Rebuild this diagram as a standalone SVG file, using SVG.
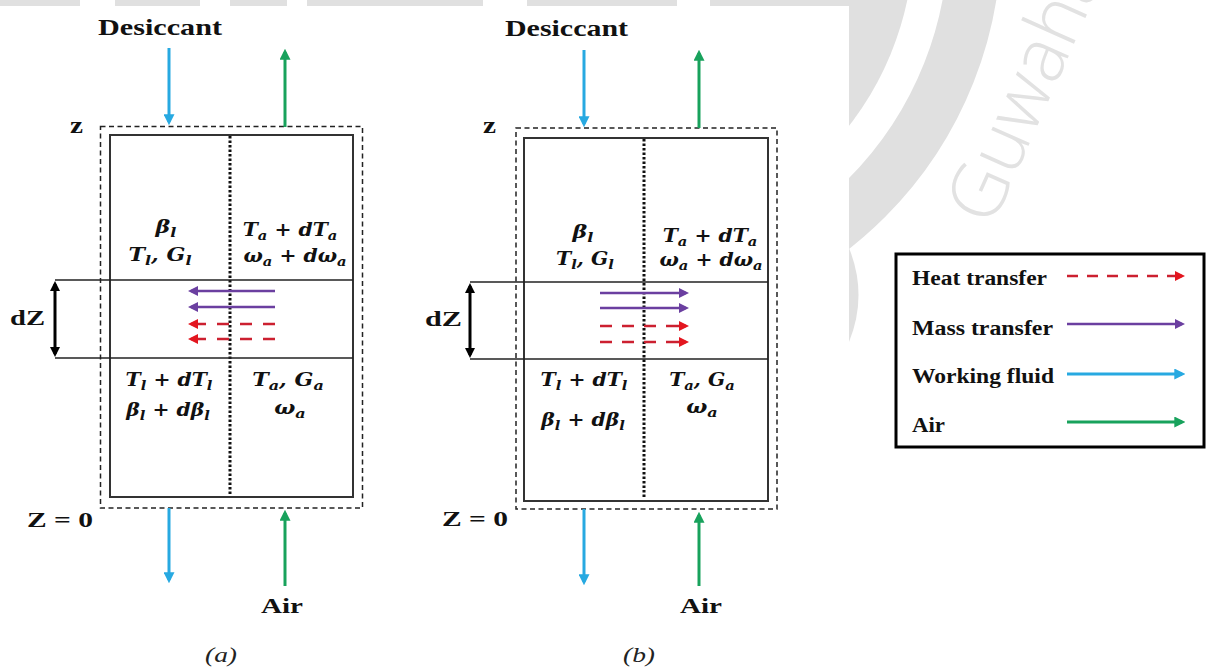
<svg xmlns="http://www.w3.org/2000/svg" width="1207" height="670" viewBox="0 0 1207 670">
<style>
.lb{font-family:"Liberation Serif",serif;font-weight:bold;fill:#111}
.cap{font-family:"Liberation Serif",serif;font-style:italic;fill:#222;font-size:22px}
.m{font-family:"DejaVu Serif",serif;font-style:italic;font-weight:bold;font-size:18px;fill:#111}
.s{font-size:13px}
.dash{fill:none;stroke:#222;stroke-width:1.5;stroke-dasharray:5 3.5}
.box{fill:none;stroke:#333;stroke-width:2}
.dot{stroke:#111;stroke-width:3;stroke-dasharray:2.5 2}
.hl{stroke:#222;stroke-width:1.5}
.blue{stroke:#27a9e1;stroke-width:3;fill:none}
.green{stroke:#18a25c;stroke-width:3;fill:none}
.purple{stroke:#6b3fa0;stroke-width:2.5;fill:none}
.red{stroke:#cc2030;stroke-width:2.5;fill:none}
.blk{stroke:#000;stroke-width:3;fill:none}
.wm{fill:#e0e0e0}
</style>
<defs>
<marker id="hBlue" viewBox="0 0 10 10" refX="7" refY="5" markerWidth="11" markerHeight="11" markerUnits="userSpaceOnUse" orient="auto"><path d="M0,0L10,5L0,10z" fill="#27a9e1"/></marker>
<marker id="hGreen" viewBox="0 0 10 10" refX="7" refY="5" markerWidth="11" markerHeight="11" markerUnits="userSpaceOnUse" orient="auto"><path d="M0,0L10,5L0,10z" fill="#18a25c"/></marker>
<marker id="hPurple" viewBox="0 0 10 10" refX="7" refY="5" markerWidth="10" markerHeight="10" markerUnits="userSpaceOnUse" orient="auto"><path d="M0,0L10,5L0,10z" fill="#6b3fa0"/></marker>
<marker id="hRed" viewBox="0 0 10 10" refX="7" refY="5" markerWidth="10" markerHeight="10" markerUnits="userSpaceOnUse" orient="auto"><path d="M0,0L10,5L0,10z" fill="#e3161f"/></marker>
<marker id="hBlk" viewBox="0 0 10 10" refX="7" refY="5" markerWidth="10" markerHeight="11" markerUnits="userSpaceOnUse" orient="auto-start-reverse"><path d="M0,0L10,5L0,10z" fill="#000"/></marker>
</defs>
<rect width="1207" height="670" fill="#fff"/>
<g id="watermark">
<circle cx="604" cy="-64" r="310" class="wm"/>
<circle cx="604" cy="-64" r="371" fill="none" stroke="#e0e0e0" stroke-width="53"/>
<path d="M849,248Q868,295 849,342Z" class="wm"/>
<rect x="0" y="0" width="850" height="6" class="wm"/>
<text transform="translate(992,228) rotate(-66)" font-family="'Open Sans',sans-serif" font-weight="300" font-size="76" fill="#e2e2e2">Guwahati</text>
<rect x="0" y="6" width="849" height="664" fill="#fff"/>
<rect x="80" y="0" width="35" height="6" fill="#fff"/>
<rect x="200" y="0" width="30" height="6" fill="#fff"/>
<rect x="287" y="0" width="20" height="6" fill="#fff"/>
<rect x="483" y="0" width="44" height="6" fill="#fff"/>
<rect x="677" y="0" width="33" height="6" fill="#fff"/>
</g>
<g id="panel-a">
<rect class="dash" x="100.5" y="126.5" width="262" height="381.5"/>
<rect class="box" x="110" y="135" width="243" height="362"/>
<line class="dot" x1="230" y1="136" x2="230" y2="495"/>
<line class="hl" x1="55" y1="280" x2="353" y2="280"/>
<line class="hl" x1="55" y1="358" x2="353" y2="358"/>
<text class="lb" x="98" y="35" font-size="24" textLength="124" lengthAdjust="spacingAndGlyphs">Desiccant</text>
<text class="lb" x="70" y="133" font-size="24" textLength="13" lengthAdjust="spacingAndGlyphs">z</text>
<text class="lb" x="10" y="325" font-size="22" textLength="35" lengthAdjust="spacingAndGlyphs">dZ</text>
<text class="lb" x="27" y="527" font-size="22" textLength="66" lengthAdjust="spacingAndGlyphs">Z = 0</text>
<text class="lb" x="261" y="613" font-size="22" textLength="42" lengthAdjust="spacingAndGlyphs">Air</text>
<text class="cap" x="205" y="662" textLength="32" lengthAdjust="spacingAndGlyphs">(a)</text>
<text class="m" text-anchor="middle" transform="translate(166,233) scale(1.23,1)">β<tspan class="s" dy="4">l</tspan></text>
<text class="m" text-anchor="middle" transform="translate(160,261) scale(1.23,1)">T<tspan class="s" dy="4">l</tspan><tspan dy="-4">, G</tspan><tspan class="s" dy="4">l</tspan></text>
<text class="m" text-anchor="middle" transform="translate(290,236) scale(1.13,1)">T<tspan class="s" dy="4">a</tspan><tspan dy="-4"> + dT</tspan><tspan class="s" dy="4">a</tspan></text>
<text class="m" text-anchor="middle" transform="translate(295,262) scale(1.13,1)">ω<tspan class="s" dy="4">a</tspan><tspan dy="-4"> + dω</tspan><tspan class="s" dy="4">a</tspan></text>
<text class="m" text-anchor="middle" transform="translate(169,386) scale(1.13,1)">T<tspan class="s" dy="4">l</tspan><tspan dy="-4"> + dT</tspan><tspan class="s" dy="4">l</tspan></text>
<text class="m" text-anchor="middle" transform="translate(168,416) scale(1.13,1)">β<tspan class="s" dy="4">l</tspan><tspan dy="-4"> + dβ</tspan><tspan class="s" dy="4">l</tspan></text>
<text class="m" text-anchor="middle" transform="translate(288,386) scale(1.23,1)">T<tspan class="s" dy="4">a</tspan><tspan dy="-4">, G</tspan><tspan class="s" dy="4">a</tspan></text>
<text class="m" text-anchor="middle" transform="translate(290,414) scale(1.23,1)">ω<tspan class="s" dy="4">a</tspan></text>
</g>
<g id="panel-b">
<rect class="dash" x="516" y="128" width="261" height="381"/>
<rect class="box" x="524" y="138" width="244" height="363"/>
<line class="dot" x1="644" y1="139" x2="644" y2="499"/>
<line class="hl" x1="470" y1="282" x2="768" y2="282"/>
<line class="hl" x1="470" y1="359" x2="768" y2="359"/>
<text class="lb" x="505" y="36" font-size="24" textLength="123" lengthAdjust="spacingAndGlyphs">Desiccant</text>
<text class="lb" x="483" y="133" font-size="24" textLength="13" lengthAdjust="spacingAndGlyphs">z</text>
<text class="lb" x="425" y="326" font-size="22" textLength="37" lengthAdjust="spacingAndGlyphs">dZ</text>
<text class="lb" x="442" y="526" font-size="22" textLength="66" lengthAdjust="spacingAndGlyphs">Z = 0</text>
<text class="lb" x="680" y="613" font-size="22" textLength="42" lengthAdjust="spacingAndGlyphs">Air</text>
<text class="cap" x="623" y="662" textLength="32" lengthAdjust="spacingAndGlyphs">(b)</text>
<text class="m" text-anchor="middle" transform="translate(583,238) scale(1.23,1)">β<tspan class="s" dy="4">l</tspan></text>
<text class="m" text-anchor="middle" transform="translate(585,265) scale(1.13,1)">T<tspan class="s" dy="4">l</tspan><tspan dy="-4">, G</tspan><tspan class="s" dy="4">l</tspan></text>
<text class="m" text-anchor="middle" transform="translate(710,242) scale(1.13,1)">T<tspan class="s" dy="4">a</tspan><tspan dy="-4"> + dT</tspan><tspan class="s" dy="4">a</tspan></text>
<text class="m" text-anchor="middle" transform="translate(711,266) scale(1.13,1)">ω<tspan class="s" dy="4">a</tspan><tspan dy="-4"> + dω</tspan><tspan class="s" dy="4">a</tspan></text>
<text class="m" text-anchor="middle" transform="translate(584,386) scale(1.13,1)">T<tspan class="s" dy="4">l</tspan><tspan dy="-4"> + dT</tspan><tspan class="s" dy="4">l</tspan></text>
<text class="m" text-anchor="middle" transform="translate(583,426) scale(1.13,1)">β<tspan class="s" dy="4">l</tspan><tspan dy="-4"> + dβ</tspan><tspan class="s" dy="4">l</tspan></text>
<text class="m" text-anchor="middle" transform="translate(702,386) scale(1.13,1)">T<tspan class="s" dy="4">a</tspan><tspan dy="-4">, G</tspan><tspan class="s" dy="4">a</tspan></text>
<text class="m" text-anchor="middle" transform="translate(702,413) scale(1.23,1)">ω<tspan class="s" dy="4">a</tspan></text>
</g>
<g id="legend">
<rect x="896" y="254" width="308" height="193" fill="#fff" stroke="#000" stroke-width="3"/>
<text class="lb" x="912" y="285" font-size="20" textLength="135" lengthAdjust="spacingAndGlyphs">Heat transfer</text>
<text class="lb" x="912" y="335" font-size="20" textLength="141" lengthAdjust="spacingAndGlyphs">Mass transfer</text>
<text class="lb" x="912" y="383" font-size="20" textLength="142" lengthAdjust="spacingAndGlyphs">Working fluid</text>
<text class="lb" x="912" y="432" font-size="20" textLength="33" lengthAdjust="spacingAndGlyphs">Air</text>
</g>
<g id="connectors">
<line class="blue" x1="169" y1="48" x2="169" y2="122" marker-end="url(#hBlue)"/>
<line class="green" x1="285" y1="127" x2="285" y2="52" marker-end="url(#hGreen)"/>
<line class="blue" x1="169" y1="508" x2="169" y2="580" marker-end="url(#hBlue)"/>
<line class="green" x1="285" y1="586" x2="285" y2="513" marker-end="url(#hGreen)"/>
<line class="blk" x1="55" y1="284" x2="55" y2="354" marker-start="url(#hBlk)" marker-end="url(#hBlk)"/>
<line class="purple" x1="275" y1="291" x2="191" y2="291" marker-end="url(#hPurple)"/>
<line class="purple" x1="275" y1="307" x2="191" y2="307" marker-end="url(#hPurple)"/>
<path class="red" d="M275,324H263M252,324H240M229,324H217M206,324H191" marker-end="url(#hRed)"/>
<path class="red" d="M275,339H263M252,339H240M229,339H217M206,339H191" marker-end="url(#hRed)"/>
<line class="blue" x1="584" y1="50" x2="584" y2="124" marker-end="url(#hBlue)"/>
<line class="green" x1="699" y1="128" x2="699" y2="53" marker-end="url(#hGreen)"/>
<line class="blue" x1="584" y1="509" x2="584" y2="582" marker-end="url(#hBlue)"/>
<line class="green" x1="699" y1="586" x2="699" y2="515" marker-end="url(#hGreen)"/>
<line class="blk" x1="470" y1="286" x2="470" y2="355" marker-start="url(#hBlk)" marker-end="url(#hBlk)"/>
<line class="purple" x1="600" y1="293" x2="686" y2="293" marker-end="url(#hPurple)"/>
<line class="purple" x1="600" y1="308" x2="686" y2="308" marker-end="url(#hPurple)"/>
<path class="red" d="M600,326H612M622,326H634M644,326H656M666,326H686" marker-end="url(#hRed)"/>
<path class="red" d="M600,342H612M622,342H634M644,342H656M666,342H686" marker-end="url(#hRed)"/>
<path class="red" d="M1067,276H1078M1087,276H1098M1107,276H1118M1127,276H1138M1147,276H1158M1167,276H1182" marker-end="url(#hRed)"/>
<line class="purple" x1="1067" y1="324" x2="1182" y2="324" marker-end="url(#hPurple)"/>
<line class="blue" x1="1067" y1="374" x2="1182" y2="374" stroke-width="2.5" marker-end="url(#hBlue)"/>
<line class="green" x1="1067" y1="422" x2="1182" y2="422" stroke-width="2.5" marker-end="url(#hGreen)"/>
</g>
</svg>
